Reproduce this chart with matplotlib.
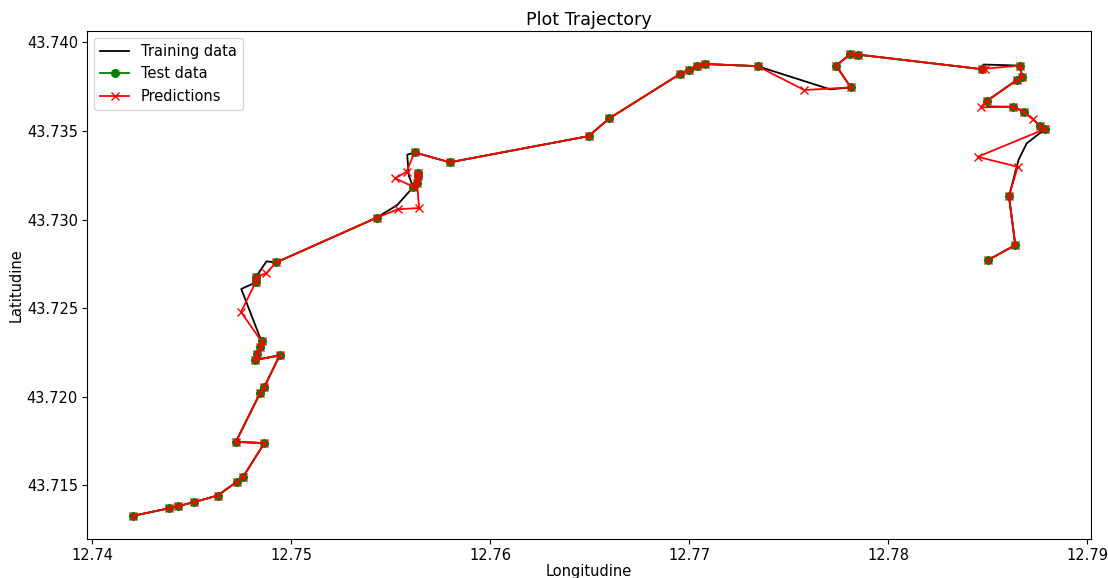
import numpy as np
import matplotlib
matplotlib.use("Agg")
import matplotlib.pyplot as plt

# Full GPS track (longitude / latitude)
train_lon = [
    12.74203, 12.74386, 12.74431, 12.74513, 12.74630, 12.74726, 12.74759, 12.74865, 12.74722, 12.74843,
    12.74865, 12.74942, 12.74818, 12.74830, 12.74843, 12.74851, 12.74749, 12.74821, 12.74821, 12.74876,
    12.74925, 12.75429, 12.75533, 12.75607, 12.75633, 12.75636, 12.75636, 12.75613, 12.75592, 12.75583,
    12.75620, 12.75797, 12.76495, 12.76599, 12.76956, 12.77000, 12.77038, 12.77078, 12.77344, 12.77709,
    12.77813, 12.77739, 12.77811, 12.77851, 12.78471, 12.78480, 12.78664, 12.78674, 12.78647, 12.78496,
    12.78498, 12.78630, 12.78684, 12.78724, 12.78764, 12.78791, 12.78697, 12.78656, 12.78608, 12.78640,
    12.78501,
]
train_lat = [
    43.71327, 43.71370, 43.71382, 43.71405, 43.71442, 43.71519, 43.71549, 43.71738, 43.71745, 43.72019,
    43.72055, 43.72233, 43.72207, 43.72241, 43.72279, 43.72312, 43.72608, 43.72645, 43.72673, 43.72764,
    43.72758, 43.73010, 43.73082, 43.73175, 43.73204, 43.73245, 43.73261, 43.73185, 43.73245, 43.73366,
    43.73379, 43.73323, 43.73471, 43.73571, 43.73823, 43.73844, 43.73866, 43.73878, 43.73866, 43.73735,
    43.73746, 43.73869, 43.73934, 43.73931, 43.73849, 43.73875, 43.73869, 43.73806, 43.73787, 43.73669,
    43.73638, 43.73637, 43.73607, 43.73570, 43.73528, 43.73512, 43.73430, 43.73336, 43.73131, 43.72856,
    43.72770,
]

# Positions removed from the test set and the model's estimates for them
gap_index = [16, 19, 22, 23, 28, 29, 39, 45, 50, 53, 56, 57]
gap_pred_lon = [12.74748, 12.74875, 12.75536, 12.75643, 12.75523, 12.75580,
                12.77579, 12.78488, 12.78466, 12.78730, 12.78451, 12.78652]
gap_pred_lat = [43.72478, 43.72698, 43.73058, 43.73065, 43.73233, 43.73270,
                43.73731, 43.73852, 43.73633, 43.73566, 43.73354, 43.73298]

test_lon = np.array(train_lon, dtype=float)
test_lat = np.array(train_lat, dtype=float)
test_lon[gap_index] = np.nan
test_lat[gap_index] = np.nan

pred_lon = test_lon.copy()
pred_lat = test_lat.copy()
pred_lon[gap_index] = gap_pred_lon
pred_lat[gap_index] = gap_pred_lat

plt.rcParams["font.family"] = ["DejaVu Sans"]
plt.rcParams["font.size"] = 10.5
plt.rcParams["xtick.major.pad"] = 3
plt.rcParams["ytick.major.pad"] = 3

fig = plt.figure(figsize=(11.08, 5.78), dpi=100)
ax = fig.add_axes([87 / 1108, 1 - 539 / 578, (1091 - 87) / 1108, (539 - 31) / 578])

lw = 1.3
ms = 5.5
ax.plot(train_lon, train_lat, color="black", lw=lw, label="Training data")
ax.plot(test_lon, test_lat, color="green", marker="o", lw=lw, ms=ms, label="Test data")
ax.plot(pred_lon, pred_lat, color="red", marker="x", lw=lw, ms=ms, label="Predictions")

ax.set_title("Plot Trajectory", pad=4)
ax.set_xlabel("Longitudine", labelpad=1)
ax.set_ylabel("Latitudine", labelpad=2)
ax.legend(loc="upper left")

fig.savefig("out.png", dpi=100)
